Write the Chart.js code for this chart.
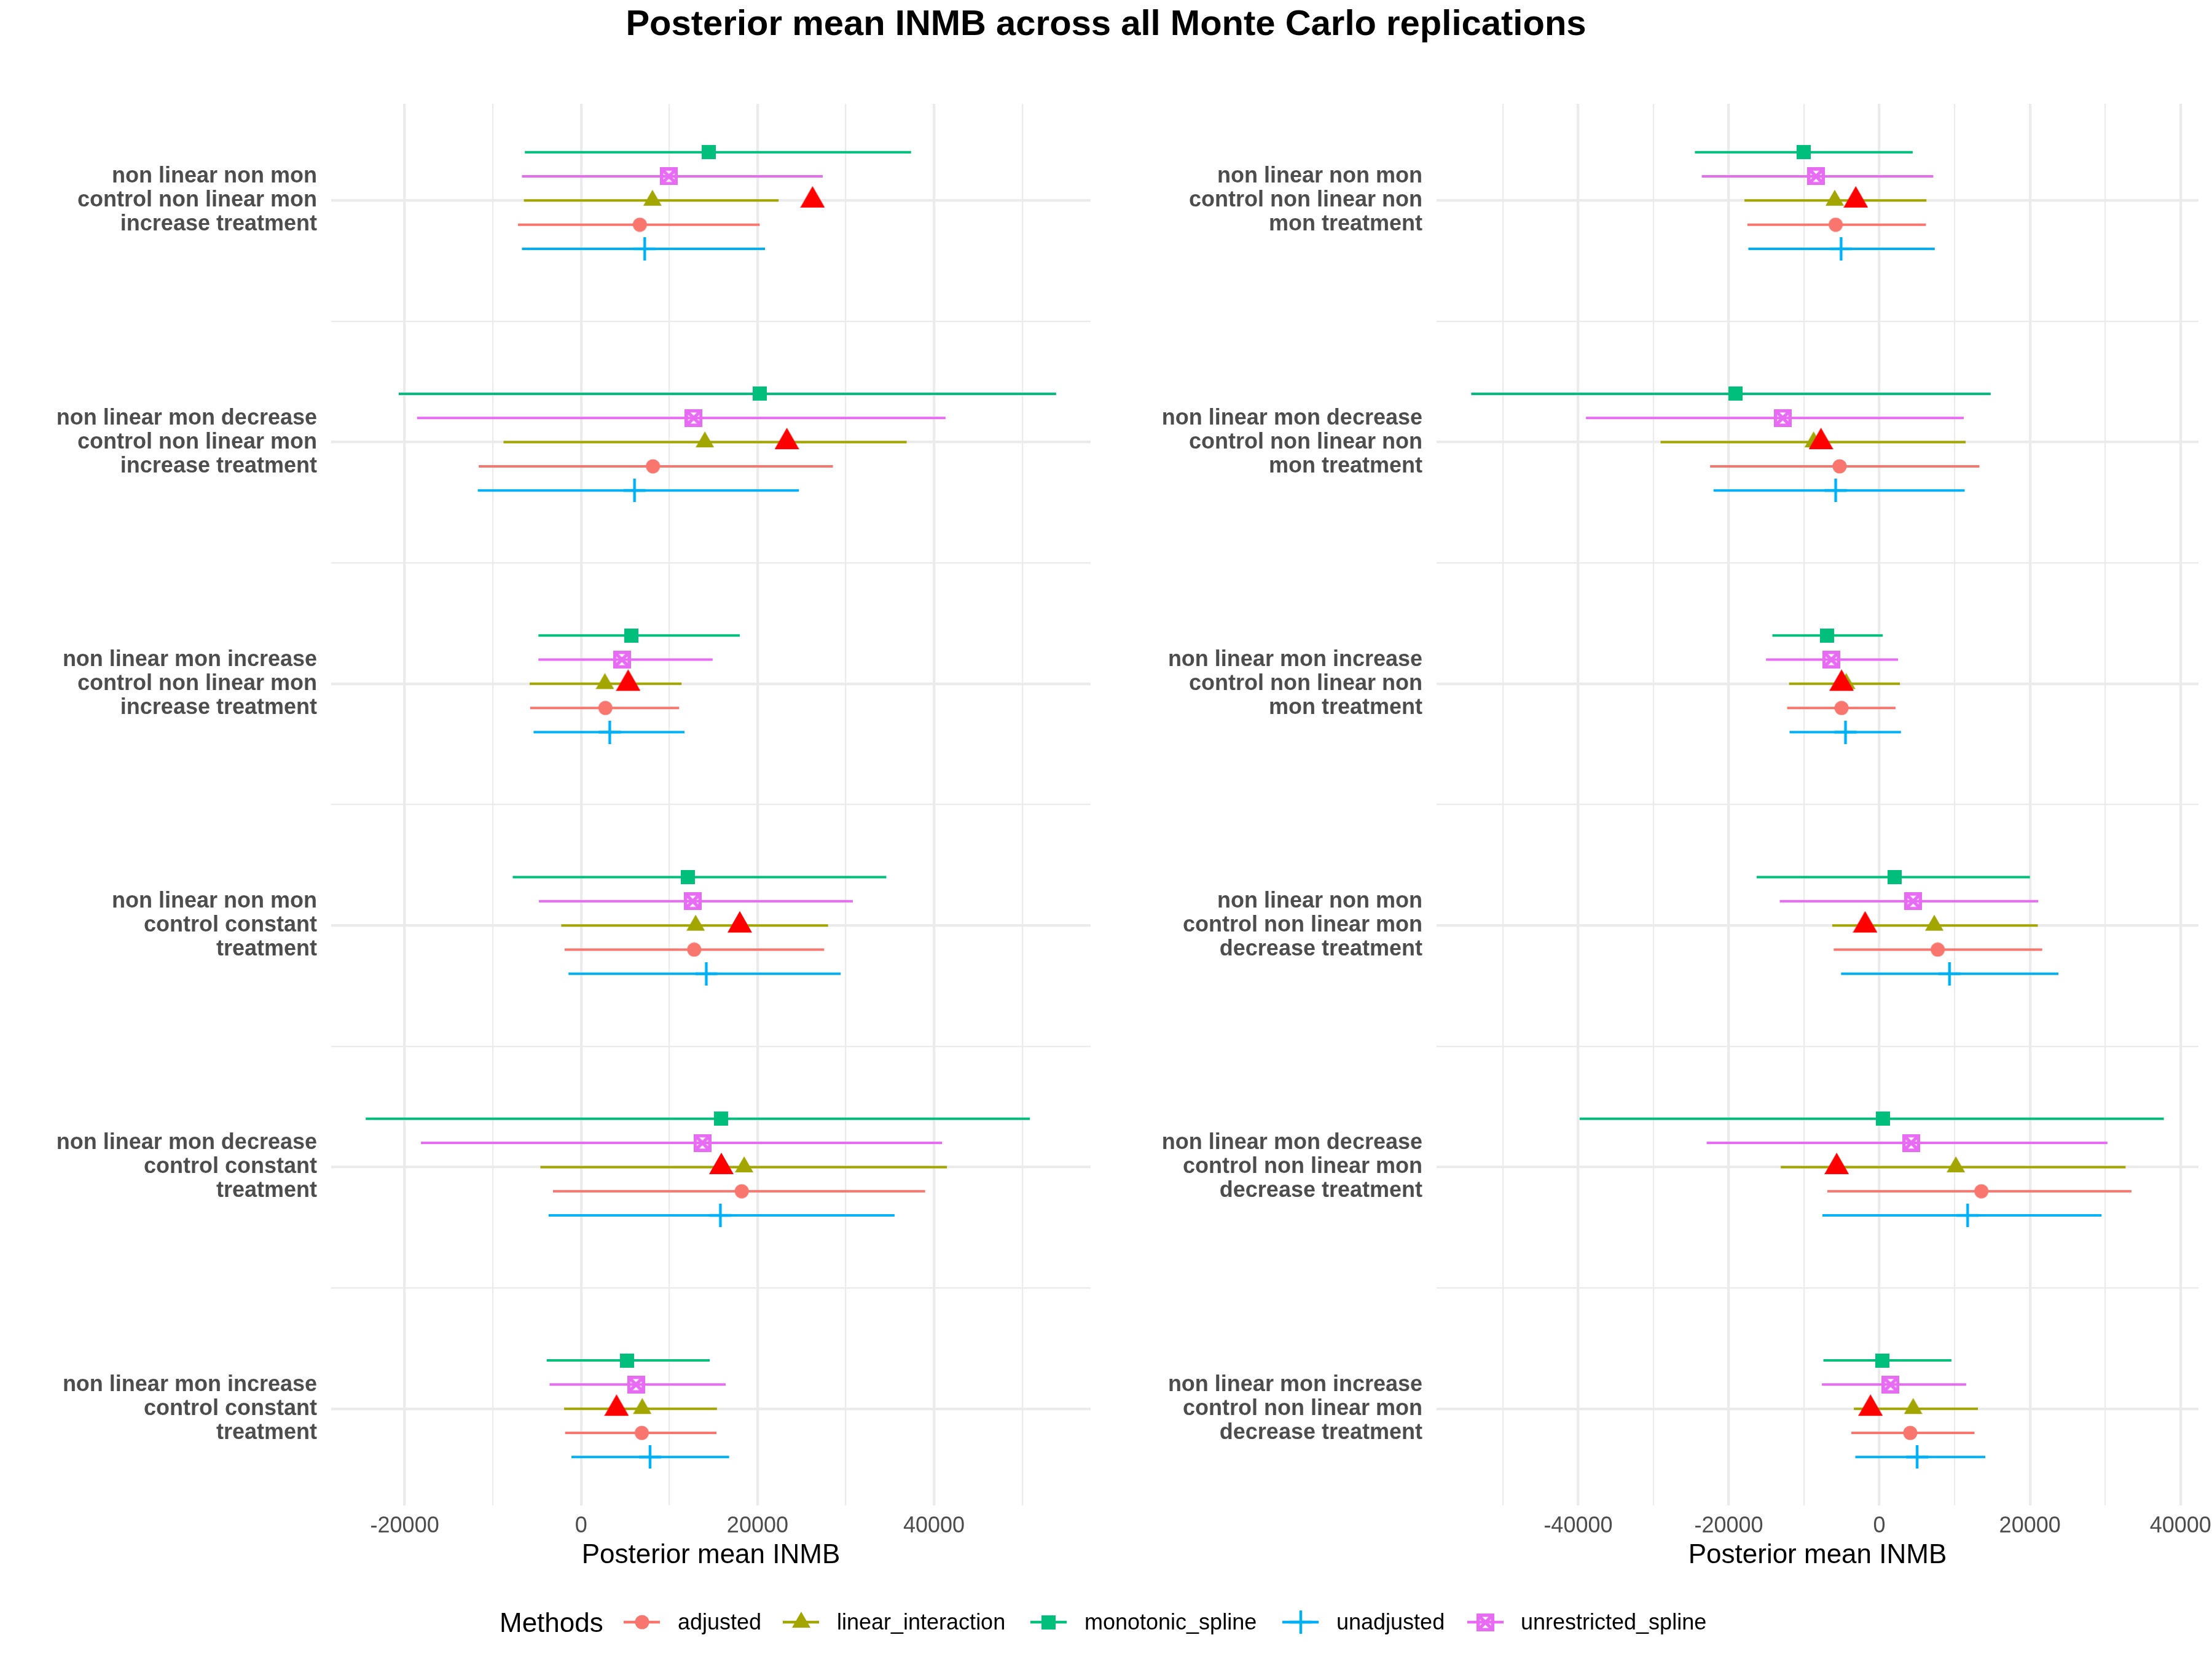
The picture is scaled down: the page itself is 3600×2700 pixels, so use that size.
<!DOCTYPE html>
<html>
<head>
<meta charset="utf-8">
<script src="https://cdn.jsdelivr.net/npm/chart.js@4.4.1/dist/chart.umd.min.js"></script>
<style>
html,body{margin:0;padding:0;background:#fff;}
#wrap{position:relative;width:3600px;height:2700px;background:#fff;font-family:"Liberation Sans",Arial,Helvetica,sans-serif;overflow:hidden;}
#title{position:absolute;left:0;top:8px;width:3600px;text-align:center;font-weight:bold;font-size:58px;line-height:58px;color:#000;white-space:nowrap;}
.cv{position:absolute;top:0;}
.lg-title{position:absolute;top:2619px;font-size:44px;line-height:44px;color:#000;white-space:nowrap;}
.lg-text{position:absolute;top:2622px;font-size:36px;line-height:36px;color:#000;white-space:nowrap;}
.lg-key{position:absolute;top:2618px;}
</style>
</head>
<body>
<div id="wrap">
  <div id="title">Posterior mean INMB across all Monte Carlo replications</div>
  <canvas id="cLeft" class="cv" width="1800" height="2700" style="left:0px;width:1800px;height:2700px;"></canvas>
  <canvas id="cRight" class="cv" width="1800" height="2700" style="left:1800px;width:1800px;height:2700px;"></canvas>
  <div id="legend"></div>
</div>
<script>
// ---------------- DATA ----------------
const methods = ['adjusted', 'linear_interaction', 'monotonic_spline', 'unadjusted', 'unrestricted_spline'];
const methodColors = ['#F8766D', '#A3A500', '#00BF7D', '#00B0F6', '#E76BF3'];

const leftCategories = [
  ['non linear non mon', 'control non linear mon', 'increase treatment'],
  ['non linear mon decrease', 'control non linear mon', 'increase treatment'],
  ['non linear mon increase', 'control non linear mon', 'increase treatment'],
  ['non linear non mon', 'control constant', 'treatment'],
  ['non linear mon decrease', 'control constant', 'treatment'],
  ['non linear mon increase', 'control constant', 'treatment']
];
const rightCategories = [
  ['non linear non mon', 'control non linear non', 'mon treatment'],
  ['non linear mon decrease', 'control non linear non', 'mon treatment'],
  ['non linear mon increase', 'control non linear non', 'mon treatment'],
  ['non linear non mon', 'control non linear mon', 'decrease treatment'],
  ['non linear mon decrease', 'control non linear mon', 'decrease treatment'],
  ['non linear mon increase', 'control non linear mon', 'decrease treatment']
];

const xTickLabelsLeft = [-20000, 0, 20000, 40000];
const xTickLabelsRight = [-40000, -20000, 0, 20000, 40000];

// Left panel
const leftAdjustedMean = [6655, 8140, 2750, 12815, 18205, 6875];
const leftAdjustedLow  = [-7150, -11605, -5775, -1870, -3190, -1815];
const leftAdjustedHigh = [20240, 28545, 11110, 27555, 38995, 15345];
const leftLinearMean = [8085, 14025, 2695, 12980, 18480, 6930];
const leftLinearLow  = [-6490, -8800, -5830, -2255, -4620, -1925];
const leftLinearHigh = [22385, 36905, 11385, 27995, 41470, 15400];
const leftMonotonicMean = [14465, 20240, 5665, 12100, 15840, 5225];
const leftMonotonicLow  = [-6380, -20680, -4840, -7755, -24420, -3905];
const leftMonotonicHigh = [37400, 53845, 17985, 34595, 50875, 14575];
const leftUnadjustedMean = [7205, 6050, 3245, 14190, 15785, 7810];
const leftUnadjustedLow  = [-6710, -11715, -5390, -1430, -3685, -1100];
const leftUnadjustedHigh = [20845, 24695, 11715, 29425, 35530, 16775];
const leftUnrestrictedMean = [9955, 12760, 4620, 12650, 13750, 6215];
const leftUnrestrictedLow  = [-6710, -18590, -4840, -4785, -18150, -3575];
const leftUnrestrictedHigh = [27390, 41305, 14905, 30800, 40920, 16390];
const leftTrueValue = [26235, 23320, 5335, 17985, 15895, 4015];

// Right panel
const rightAdjustedMean = [-5798, -5277, -5017, 7753, 13551, 4104];
const rightAdjustedLow  = [-17525, -22477, -12248, -6059, -6906, -3714];
const rightAdjustedHigh = [6189, 13291, 2150, 21630, 33487, 12639];
const rightLinearMean = [-5929, -8730, -4400, 7297, 10163, 4495];
const rightLinearLow  = [-17916, -29057, -11988, -6254, -13095, -3388];
const rightLinearHigh = [6254, 11466, 2736, 21044, 32705, 13095];
const rightMonotonicMean = [-10033, -19089, -6906, 2020, 521, 391];
const rightMonotonicLow  = [-24496, -54205, -14203, -16288, -39807, -7427];
const rightMonotonicHigh = [4430, 14789, 456, 20001, 37787, 9577];
const rightUnadjustedMean = [-5082, -5798, -4495, 9316, 11727, 5017];
const rightUnadjustedLow  = [-17395, -22021, -11922, -5082, -7557, -3192];
const rightUnadjustedHigh = [7362, 11336, 2867, 23780, 29513, 14072];
const rightUnrestrictedMean = [-8404, -12835, -6385, 4495, 4235, 1498];
const rightUnrestrictedLow  = [-23584, -38960, -15050, -13226, -22933, -7623];
const rightUnrestrictedHigh = [7166, 11206, 2476, 21109, 30295, 11532];
const rightTrueValue = [-3127, -7753, -5017, -1889, -5668, -1173];

// ---------------- MARKERS ----------------
function mkCanvas(w, h) { const c = document.createElement('canvas'); c.width = w; c.height = h; return c; }
function markerCircle(color) {
  const c = mkCanvas(24, 24), g = c.getContext('2d');
  g.fillStyle = color; g.beginPath(); g.arc(12, 12, 11.5, 0, Math.PI * 2); g.fill(); return c;
}
function markerTriangle(color, base, h) {
  const H = Math.round(h * 4 / 3), W = Math.ceil(base);
  const c = mkCanvas(W, H), g = c.getContext('2d');
  g.fillStyle = color; g.beginPath();
  g.moveTo(W / 2, 0); g.lineTo(W, h); g.lineTo(0, h); g.closePath(); g.fill(); return c;
}
function markerSquare(color) {
  const c = mkCanvas(23, 23), g = c.getContext('2d');
  g.fillStyle = color; g.fillRect(0, 0, 23, 23); return c;
}
function markerPlus(color) {
  const s = 38, c = mkCanvas(s, s), g = c.getContext('2d');
  g.strokeStyle = color; g.lineWidth = 4.5; g.beginPath();
  g.moveTo(s / 2, 0); g.lineTo(s / 2, s); g.moveTo(1, s / 2); g.lineTo(s - 1, s / 2); g.stroke(); return c;
}
function markerBoxX(color) {
  const s = 29, lw = 5.5, c = mkCanvas(s, s), g = c.getContext('2d');
  g.strokeStyle = color; g.lineWidth = lw;
  g.strokeRect(lw / 2, lw / 2, s - lw, s - lw);
  g.beginPath(); g.moveTo(lw / 2, lw / 2); g.lineTo(s - lw / 2, s - lw / 2);
  g.moveTo(s - lw / 2, lw / 2); g.lineTo(lw / 2, s - lw / 2); g.stroke(); return c;
}
const methodMarkers = [
  markerCircle(methodColors[0]),
  markerTriangle(methodColors[1], 30, 26),
  markerSquare(methodColors[2]),
  markerPlus(methodColors[3]),
  markerBoxX(methodColors[4])
];
const trueMarker = markerTriangle('#FF0000', 40, 35);
// vertical dodge (in category units) per method
const methodOffsets = [0.1, 0, -0.2, 0.2, -0.1];

// ---------------- CHART BUILDER ----------------
const FONT = '"Liberation Sans", Arial, Helvetica, sans-serif';
Chart.defaults.font.family = FONT;

function buildPanel(canvasId, categories, series, trueVals, tickLabels, yAxisWidth, rightPad) {
  const allLo = series.flatMap(s => s.lo), allHi = series.flatMap(s => s.hi);
  const dMin = Math.min(...allLo, ...trueVals), dMax = Math.max(...allHi, ...trueVals);
  const span = dMax - dMin;
  const xMin = dMin - 0.05 * span, xMax = dMax + 0.05 * span;

  const datasets = [];
  datasets.push({
    type: 'scatter', label: 'true', order: 0,
    data: trueVals.map((v, i) => ({ x: v, y: i })),
    pointStyle: trueMarker, pointRadius: 20, pointHoverRadius: 20, showLine: false
  });
  series.forEach((s, k) => {
    const off = methodOffsets[k];
    datasets.push({
      type: 'scatter', label: s.name, order: 1,
      data: s.mean.map((v, i) => ({ x: v, y: i + off })),
      pointStyle: methodMarkers[k], pointRadius: 12, pointHoverRadius: 12, showLine: false
    });
    const seg = [];
    s.lo.forEach((lo, i) => {
      seg.push({ x: lo, y: i + off }, { x: s.hi[i], y: i + off }, { x: s.hi[i], y: null });
    });
    datasets.push({
      type: 'line', label: s.name + ' interval', order: 2,
      data: seg, borderColor: methodColors[k], borderWidth: 4, pointRadius: 0,
      spanGaps: false, fill: false, tension: 0
    });
  });

  const yTicks = [];
  for (let v = 0; v <= categories.length - 1 + 1e-9; v += 0.5) yTicks.push(v);

  return new Chart(document.getElementById(canvasId), {
    type: 'scatter',
    data: { datasets },
    options: {
      responsive: false, animation: false, devicePixelRatio: 1,
      layout: { padding: { top: 169, right: rightPad, left: 0, bottom: 0 } },
      plugins: { legend: { display: false }, tooltip: { enabled: false }, title: { display: false } },
      scales: {
        x: {
          type: 'linear', position: 'bottom', min: xMin, max: xMax,
          afterBuildTicks: (sc) => {
            const t = [];
            for (let v = Math.ceil(xMin / 10000) * 10000; v <= xMax; v += 10000) t.push({ value: v });
            sc.ticks = t;
          },
          afterFit: (sc) => { sc.height = 250; sc.paddingLeft = 0; sc.paddingRight = 0; },
          ticks: {
            autoSkip: false, maxRotation: 0, padding: 12, color: '#4D4D4D',
            font: { size: 36, family: FONT },
            callback: (v) => tickLabels.includes(v) ? String(v) : ''
          },
          grid: {
            color: '#EBEBEB', drawTicks: false,
            lineWidth: (ctx) => (ctx.tick && tickLabels.includes(ctx.tick.value)) ? 4.3 : 2.2
          },
          border: { display: false },
          title: {
            display: true, text: 'Posterior mean INMB', color: '#000000',
            font: { size: 44, family: FONT }, padding: { top: 0, bottom: 142 }
          }
        },
        y: {
          type: 'linear', reverse: true, min: -0.4, max: categories.length - 1 + 0.4,
          afterBuildTicks: (sc) => { sc.ticks = yTicks.map(v => ({ value: v })); },
          afterFit: (sc) => { sc.width = yAxisWidth; sc.paddingTop = 0; sc.paddingBottom = 0; },
          ticks: {
            autoSkip: false, padding: 23, color: '#4D4D4D',
            font: { size: 36, weight: 'bold', family: FONT, lineHeight: 39 / 36 },
            callback: (v) => Number.isInteger(v) ? categories[v] : ''
          },
          grid: {
            color: '#EBEBEB', drawTicks: false,
            lineWidth: (ctx) => (ctx.tick && Number.isInteger(ctx.tick.value)) ? 4.3 : 2.2
          },
          border: { display: false }
        }
      }
    }
  });
}

const leftSeries = [
  { name: methods[0], mean: leftAdjustedMean, lo: leftAdjustedLow, hi: leftAdjustedHigh },
  { name: methods[1], mean: leftLinearMean, lo: leftLinearLow, hi: leftLinearHigh },
  { name: methods[2], mean: leftMonotonicMean, lo: leftMonotonicLow, hi: leftMonotonicHigh },
  { name: methods[3], mean: leftUnadjustedMean, lo: leftUnadjustedLow, hi: leftUnadjustedHigh },
  { name: methods[4], mean: leftUnrestrictedMean, lo: leftUnrestrictedLow, hi: leftUnrestrictedHigh }
];
const rightSeries = [
  { name: methods[0], mean: rightAdjustedMean, lo: rightAdjustedLow, hi: rightAdjustedHigh },
  { name: methods[1], mean: rightLinearMean, lo: rightLinearLow, hi: rightLinearHigh },
  { name: methods[2], mean: rightMonotonicMean, lo: rightMonotonicLow, hi: rightMonotonicHigh },
  { name: methods[3], mean: rightUnadjustedMean, lo: rightUnadjustedLow, hi: rightUnadjustedHigh },
  { name: methods[4], mean: rightUnrestrictedMean, lo: rightUnrestrictedLow, hi: rightUnrestrictedHigh }
];

buildPanel('cLeft', leftCategories, leftSeries, leftTrueValue, xTickLabelsLeft, 539, 25);
buildPanel('cRight', rightCategories, rightSeries, rightTrueValue, xTickLabelsRight, 538, 22);

// ---------------- LEGEND ----------------
(function () {
  const lg = document.getElementById('legend');
  const t = document.createElement('div');
  t.className = 'lg-title'; t.style.left = '813px'; t.textContent = 'Methods';
  lg.appendChild(t);
  const keyLeft = [1015, 1274, 1677, 2087, 2388];
  const textLeft = [1103, 1362, 1765, 2175, 2475];
  methods.forEach((m, k) => {
    const c = mkCanvas(59, 44); c.className = 'lg-key'; c.style.left = keyLeft[k] + 'px';
    const g = c.getContext('2d');
    g.strokeStyle = methodColors[k]; g.lineWidth = 4.5;
    g.beginPath(); g.moveTo(0, 22); g.lineTo(59, 22); g.stroke();
    const mk = methodMarkers[k];
    g.drawImage(mk, Math.round(29.5 - mk.width / 2), Math.round(22 - mk.height / 2));
    lg.appendChild(c);
    const tx = document.createElement('div');
    tx.className = 'lg-text'; tx.style.left = textLeft[k] + 'px'; tx.textContent = m;
    lg.appendChild(tx);
  });
})();
</script>
</body>
</html>
